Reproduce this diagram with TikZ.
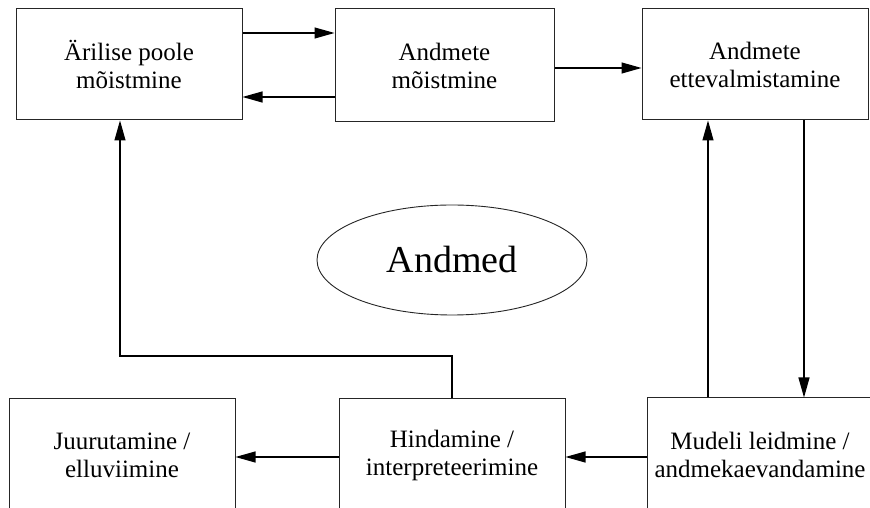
\documentclass[tikz,border=0pt]{standalone}
\usepackage{fontspec}
\setmainfont{Liberation Serif}
\usetikzlibrary{arrows.meta,shapes.geometric}

\tikzset{
  stagebox/.style={draw=black!85, line width=1pt, rectangle, inner sep=0pt,
    align=center, font=\fontsize{25}{28}\selectfont, text=black},
  flow/.style={draw=black, line width=1.1pt, -{Triangle[length=20pt,width=11pt]}},
  plainline/.style={draw=black, line width=1.1pt}
}

\begin{document}
\begin{tikzpicture}[x=1pt,y=1pt]
  \clip (0,0) rectangle (870,508);
  \fill[white] (0,0) rectangle (870,508);

  % top row of process stages
  \node[stagebox, minimum width=226pt, minimum height=111pt] (b1) at (129,443.5)
    {Ärilise poole\\mõistmine};
  \node[stagebox, minimum width=219pt, minimum height=113pt] (b2) at (444.5,442.5)
    {Andmete\\mõistmine};
  \node[stagebox, minimum width=226pt, minimum height=111pt] (b3) at (755,443.5)
    {Andmete\\ettevalmistamine};

  % bottom row of process stages
  \node[stagebox, minimum width=226pt, minimum height=112pt] (b4) at (122,53)
    {Juurutamine /\\elluviimine};
  \node[stagebox, minimum width=226pt, minimum height=112pt] (b5) at (452,53)
    {Hindamine /\\interpreteerimine};
  \node[stagebox, minimum width=226pt, minimum height=113pt] (b6) at (760,53.5)
    {Mudeli leidmine /\\andmekaevandamine};

  % data in the middle
  \node[draw=black!85, line width=0.9pt, ellipse, inner sep=0pt,
        minimum width=270pt, minimum height=110pt,
        font=\fontsize{38}{42}\selectfont] (data) at (452,248) {Andmed};

  % connectors
  \draw[flow] (b1.east |- 0,475) -- (b2.west |- 0,475);
  \draw[flow] (b2.west |- 0,411) -- (b1.east |- 0,411);
  \draw[flow] (b2.east |- 0,440) -- (b3.west |- 0,440);
  \draw[flow] (b3.south -| 804,0) -- (b6.north -| 804,0);
  \draw[flow] (b6.north -| 708,0) -- (b3.south -| 708,0);
  \draw[flow] (b6.west |- 0,51) -- (b5.east |- 0,51);
  \draw[flow] (b5.west |- 0,51) -- (b4.east |- 0,51);
  \coordinate (turnR) at (b5.north |- 0,152);
  \coordinate (turnL) at (120,152);
  \draw[flow] (b5.north) -- (turnR) -- (turnL) -- (b1.south -| turnL);
\end{tikzpicture}
\end{document}
